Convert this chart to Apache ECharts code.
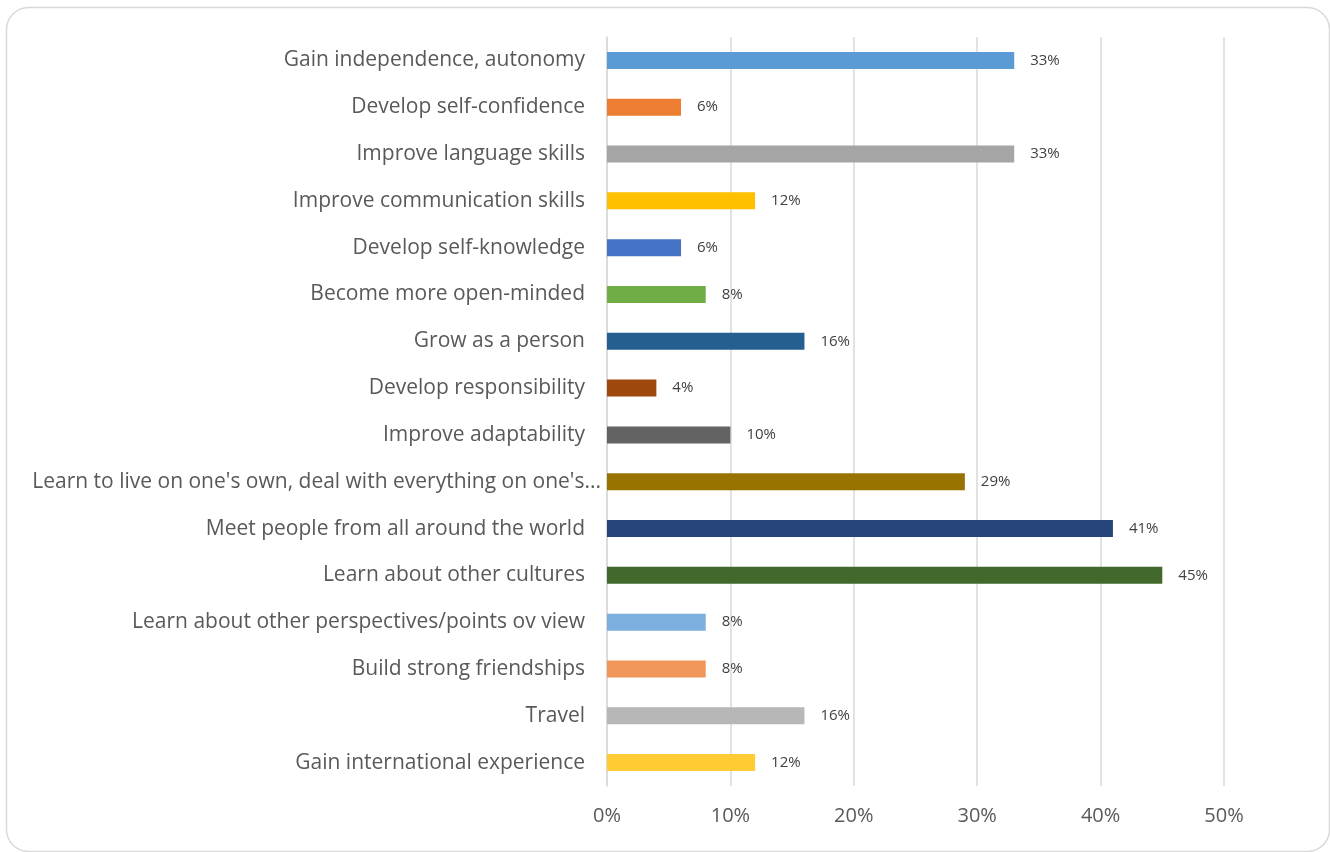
<!DOCTYPE html>
<html>
<head>
<meta charset="utf-8">
<title>Expected benefits</title>
<script src="https://cdn.jsdelivr.net/npm/echarts@6/dist/echarts.min.js"></script>
<style>
  html, body { margin: 0; padding: 0; background: #ffffff; }
  #chart { width: 1330px; height: 852px; }
</style>
</head>
<body>
<div id="chart"></div>
<script>
// Answers, top to bottom
const categories = [
  "Gain independence, autonomy",
  "Develop self-confidence",
  "Improve language skills",
  "Improve communication skills",
  "Develop self-knowledge",
  "Become more open-minded",
  "Grow as a person",
  "Develop responsibility",
  "Improve adaptability",
  "Learn to live on one's own, deal with everything on one's...",
  "Meet people from all around the world",
  "Learn about other cultures",
  "Learn about other perspectives/points ov view",
  "Build strong friendships",
  "Travel",
  "Gain international experience"
];

// Share of respondents, in percent
const shares = [33, 6, 33, 12, 6, 8, 16, 4, 10, 29, 41, 45, 8, 8, 16, 12];

// One colour per bar
const barColors = [
  "#5B9BD5", "#ED7D31", "#A5A5A5", "#FFC000",
  "#4472C4", "#70AD47", "#255E91", "#9E480E",
  "#636363", "#997300", "#264478", "#43682B",
  "#7CAFDD", "#F1975A", "#B7B7B7", "#FFCD33"
];

const axisTicks = { min: 0, max: 50, interval: 10 };

const FONT = "'Open Sans', sans-serif";

const chart = echarts.init(document.getElementById('chart'), null, { renderer: 'canvas' });

// The truncated label runs a little closer to the axis than the others
const categoryItems = categories.map(name =>
  name.endsWith('...')
    ? { value: name, textStyle: { padding: [0, -16, 0, 0] } }
    : name
);

chart.setOption({
  backgroundColor: '#ffffff',
  animation: false,
  graphic: [{
    type: 'rect',
    left: 4, top: 5,
    shape: { width: 1323, height: 844, r: 22 },
    style: { fill: 'none', stroke: '#d9d9d9', lineWidth: 1.5 },
    silent: true,
    z: -1
  }],
  grid: { left: 607, right: 106, top: 37, height: 749, containLabel: false },
  xAxis: {
    type: 'value',
    min: axisTicks.min,
    max: axisTicks.max,
    interval: axisTicks.interval,
    axisLine: { show: false },
    axisTick: { show: false },
    splitLine: { show: true, lineStyle: { color: '#d9d9d9', width: 1.5 } },
    axisLabel: {
      formatter: '{value}%',
      color: '#595959',
      fontFamily: FONT,
      fontSize: 20,
      margin: 20
    }
  },
  yAxis: {
    type: 'category',
    inverse: true,
    data: categoryItems,
    axisLine: { show: true, lineStyle: { color: '#d9d9d9', width: 1.5 } },
    axisTick: { show: false },
    axisLabel: {
      color: '#595959',
      fontFamily: FONT,
      fontSize: 21,
      margin: 22
    }
  },
  series: [{
    type: 'bar',
    data: shares.map((v, i) => ({ value: v, itemStyle: { color: barColors[i] } })),
    barWidth: 17,
    label: {
      show: true,
      position: 'right',
      distance: 16,
      formatter: '{c}%',
      color: '#404040',
      fontFamily: FONT,
      fontSize: 15
    }
  }]
});
</script>
</body>
</html>
